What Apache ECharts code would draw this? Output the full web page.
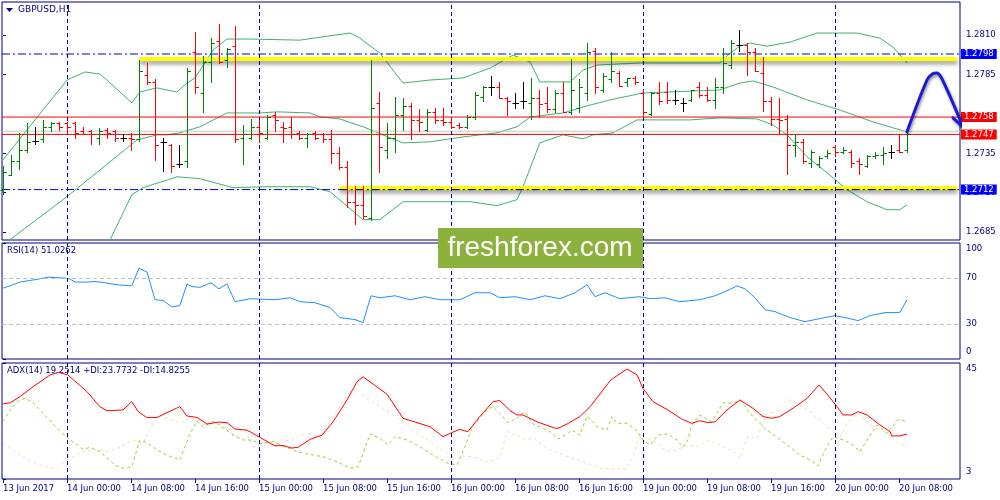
<!DOCTYPE html>
<html><head><meta charset="utf-8">
<script src="https://cdn.jsdelivr.net/npm/echarts@6/dist/echarts.min.js"></script>
<style>html,body{margin:0;padding:0;background:#fff}#c{width:1000px;height:500px}</style>
</head><body><div id="c"></div>
<script>
// ---------- data ----------
const tickIndex = [0,8,16,24,32,40,48,56,64,72,80,88,96,104,112];
const tickLabels = ['13 Jun 2017','14 Jun 00:00','14 Jun 08:00','14 Jun 16:00','15 Jun 00:00','15 Jun 08:00','15 Jun 16:00','16 Jun 00:00','16 Jun 08:00','16 Jun 16:00','19 Jun 00:00','19 Jun 08:00','19 Jun 16:00','20 Jun 00:00','20 Jun 08:00'];
const daySeparators = [8,32,56,80,104];
const priceTicks = [1.2685,1.2710,1.2735,1.2785,1.2810];
const rsiTicks = [0,30,70,100];
const adxTicks = [3,45];

// GBPUSD H1 bars: [open, high, low, close]
const ohlc = [
[1.2712,1.2727,1.2709,1.2723],[1.2721,1.2734,1.2721,1.2730],[1.2730,1.2748,1.2725,1.2737],[1.2737,1.2754,1.2736,1.2742],
[1.2743,1.2752,1.2741,1.2743],[1.2744,1.2756,1.2742,1.2752],[1.2752,1.2755,1.2749,1.2754],[1.2754,1.2755,1.2750,1.2752],
[1.2754,1.2755,1.2748,1.2752],[1.2754,1.2755,1.2745,1.2748],[1.2749,1.2752,1.2747,1.2747],[1.2749,1.2750,1.2741,1.2747],
[1.2745,1.2751,1.2741,1.2749],[1.2750,1.2751,1.2745,1.2748],[1.2749,1.2750,1.2743,1.2745],[1.2745,1.2747,1.2743,1.2745],
[1.2745,1.2748,1.2737,1.2744],[1.2744,1.2794,1.2743,1.2787],[1.2785,1.2792,1.2779,1.2780],[1.2780,1.2782,1.2731,1.2740],
[1.2742,1.2745,1.2724,1.2742],[1.2740,1.2741,1.2723,1.2727],[1.2728,1.2740,1.2726,1.2728],[1.2730,1.2789,1.2726,1.2787],
[1.2799,1.2812,1.2773,1.2777],[1.2773,1.2797,1.2761,1.2793],[1.2793,1.2808,1.2780,1.2805],[1.2806,1.2817,1.2792,1.2793],
[1.2794,1.2802,1.2790,1.2801],[1.2803,1.2816,1.2742,1.2744],[1.2745,1.2753,1.2728,1.2747],[1.2745,1.2757,1.2744,1.2752],
[1.2752,1.2756,1.2742,1.2748],[1.2745,1.2759,1.2744,1.2758],[1.2759,1.2761,1.2749,1.2756],[1.2752,1.2755,1.2742,1.2751],
[1.2752,1.2758,1.2745,1.2747],[1.2748,1.2749,1.2744,1.2745],[1.2745,1.2748,1.2739,1.2747],[1.2748,1.2749,1.2744,1.2745],
[1.2747,1.2748,1.2742,1.2744],[1.2744,1.2750,1.2729,1.2735],[1.2735,1.2739,1.2725,1.2726],[1.2726,1.2730,1.2701,1.2704],
[1.2704,1.2714,1.2690,1.2702],[1.2702,1.2714,1.2694,1.2695],[1.2694,1.2794,1.2693,1.2764],[1.2767,1.2774,1.2723,1.2739],
[1.2737,1.2754,1.2732,1.2745],[1.2745,1.2771,1.2736,1.2759],[1.2759,1.2770,1.2750,1.2765],[1.2765,1.2767,1.2744,1.2756],
[1.2756,1.2763,1.2749,1.2755],[1.2750,1.2763,1.2749,1.2761],[1.2761,1.2764,1.2754,1.2756],[1.2756,1.2764,1.2753,1.2755],
[1.2755,1.2758,1.2751,1.2752],[1.2753,1.2754,1.2751,1.2752],[1.2752,1.2759,1.2751,1.2758],[1.2758,1.2774,1.2757,1.2772],
[1.2771,1.2778,1.2768,1.2777],[1.2777,1.2784,1.2772,1.2777],[1.2777,1.2780,1.2770,1.2770],[1.2770,1.2771,1.2759,1.2768],
[1.2767,1.2773,1.2764,1.2767],[1.2768,1.2780,1.2764,1.2768],[1.2767,1.2783,1.2757,1.2770],[1.2770,1.2775,1.2758,1.2766],
[1.2767,1.2777,1.2761,1.2763],[1.2763,1.2775,1.2761,1.2773],[1.2773,1.2780,1.2761,1.2761],[1.2761,1.2795,1.2760,1.2775],
[1.2764,1.2782,1.2761,1.2777],[1.2773,1.2805,1.2769,1.2799],[1.2800,1.2802,1.2773,1.2777],[1.2775,1.2786,1.2774,1.2784],
[1.2782,1.2799,1.2780,1.2787],[1.2786,1.2787,1.2778,1.2778],[1.2780,1.2783,1.2778,1.2783],[1.2783,1.2784,1.2779,1.2780],
[1.2773,1.2775,1.2758,1.2761],[1.2760,1.2774,1.2759,1.2773],[1.2773,1.2780,1.2766,1.2768],[1.2774,1.2780,1.2767,1.2769],
[1.2769,1.2775,1.2766,1.2769],[1.2767,1.2770,1.2762,1.2767],[1.2769,1.2775,1.2768,1.2775],[1.2777,1.2780,1.2771,1.2772],
[1.2772,1.2777,1.2768,1.2769],[1.2769,1.2783,1.2764,1.2777],[1.2777,1.2802,1.2773,1.2792],[1.2791,1.2807,1.2789,1.2805],
[1.2804,1.2813,1.2800,1.2804],[1.2804,1.2805,1.2785,1.2799],[1.2799,1.2802,1.2787,1.2787],[1.2786,1.2796,1.2762,1.2768],
[1.2768,1.2771,1.2753,1.2757],[1.2757,1.2770,1.2747,1.2756],[1.2757,1.2759,1.2722,1.2740],[1.2740,1.2747,1.2733,1.2742],
[1.2742,1.2744,1.2729,1.2730],[1.2729,1.2737,1.2726,1.2736],[1.2728,1.2733,1.2726,1.2732],[1.2733,1.2737,1.2732,1.2735],
[1.2739,1.2740,1.2733,1.2736],[1.2736,1.2739,1.2735,1.2737],[1.2736,1.2737,1.2726,1.2729],[1.2730,1.2732,1.2722,1.2728],
[1.2727,1.2734,1.2726,1.2733],[1.2733,1.2736,1.2732,1.2734],[1.2734,1.2739,1.2728,1.2735],[1.2736,1.2740,1.2732,1.2736],
[1.2737,1.2747,1.2736,1.2736],[1.2737,1.2749,1.2736,1.2747]
];

// Bollinger bands: [bar index, price]
const bbUpper = [[0,1.27309],[4,1.27562],[8,1.27815],[10.25,1.27866],[12.1,1.27853],[13,1.27815],[16.1,1.2767],[17.1,1.27739],[19.25,1.27765],[21.75,1.27739],[23,1.27796],[24,1.27828],[26.25,1.28005],[28,1.28075],[30.9,1.28075],[37.1,1.28068],[41.5,1.281],[43.4,1.28113],[44.6,1.28081],[47.1,1.27986],[50,1.27796],[53.4,1.27815],[57.5,1.27828],[60.9,1.27891],[63.75,1.27973],[65.9,1.27929],[67.1,1.27803],[70.9,1.27803],[72.5,1.27878],[74.25,1.2791],[79.6,1.27923],[89.6,1.27923],[90.9,1.27986],[92.1,1.2803],[93.4,1.28049],[95.5,1.2803],[98.4,1.28056],[101.75,1.28113],[106.75,1.28113],[109.6,1.28081],[111.25,1.28024],[113,1.27923]];
const bbMiddle = [[0,1.2675],[0.9,1.26803],[8,1.27075],[16.75,1.27435],[19.25,1.27467],[20.5,1.27467],[22.1,1.2748],[24.6,1.27518],[28,1.27606],[32.1,1.27606],[34.25,1.27613],[38.4,1.27606],[39.6,1.27581],[42.1,1.27568],[45,1.27518],[50,1.27416],[53.4,1.27423],[57.5,1.27454],[61.75,1.2748],[64.25,1.27518],[65.9,1.27581],[70,1.27606],[73,1.27651],[75.9,1.27689],[80,1.27733],[89.6,1.27752],[92.1,1.27796],[93.75,1.27809],[96.25,1.27771],[100.5,1.27689],[104.6,1.27625],[108.75,1.27549],[113,1.27486]];
const bbLower = [[12.5,1.2672],[13.4,1.26803],[16.1,1.27087],[17.5,1.27132],[21.75,1.27201],[24.6,1.27189],[28.75,1.27132],[33,1.27138],[38.4,1.27138],[40.9,1.27106],[45,1.26929],[47.1,1.26929],[50,1.27043],[58.4,1.27043],[61.75,1.27018],[64.25,1.27056],[65,1.27138],[67.1,1.27416],[70,1.27467],[72.5,1.27442],[73.75,1.27467],[76.25,1.2748],[79.25,1.27562],[85.9,1.27562],[89.6,1.27575],[94.25,1.27568],[96.25,1.2753],[98,1.27467],[100.5,1.27328],[103,1.27227],[105.5,1.27119],[108,1.27043],[110.5,1.26992],[112.1,1.26992],[113,1.27024]];

// horizontal levels
const levelBlue = [1.2798, 1.2712];
const levelRed = [1.2758, 1.2747];
const askLine = 1.2749;
const bandUpper = [[17.1,1.27948],[119.3,1.27948]];
const bandLower = [[42.1,1.2713],[119.3,1.2713]];
const bandLowerDash = [[42.1,1.2712],[119.3,1.2712]];
// forecast arrow
const arrowPath = [[113,1.27486],[115.5,1.27815],[116.2,1.27855],[116.7,1.2786],[117.3,1.2783],[119.9,1.2753]];
const arrowHead = [[118.75,1.27575],[119.95,1.2752],[120.15,1.2766]];

// RSI(14)
const rsi = [[0,61.1],[0.9,63.1],[2.1,66.3],[3.4,67.7],[4.6,69.1],[5.6,70.6],[6.5,70.2],[7.75,69.7],[8.4,68.9],[9,66.3],[10.25,66.3],[11.5,66.8],[12.5,66.0],[13.75,64.6],[14.6,63.7],[16.1,63.1],[17,78.3],[18,74.9],[19,51.1],[20,50.5],[21.1,44.9],[22.1,46.0],[23,64.6],[23.6,62.5],[24.6,61.7],[26,65.7],[27,60.5],[28,64.8],[29,49.4],[30.9,52.0],[34,51.1],[35.9,52.8],[37.1,49.4],[39,48.5],[40.9,44.3],[42.1,35.7],[44,34.0],[45,31.4],[46,54.5],[47.1,52.8],[49,54.5],[50.9,51.1],[52.75,53.7],[54.6,51.1],[57.1,51.1],[59,57.1],[60.9,57.1],[62.1,52.8],[64,53.7],[65.9,51.1],[67.75,54.5],[69.6,52.0],[71.5,57.1],[73,64.0],[74,53.7],[75.25,57.1],[77.1,52.0],[79.6,53.7],[80.9,52.0],[82.75,52.8],[84.6,49.4],[87.1,51.1],[89,54.5],[90.5,58.8],[91.75,63.1],[92.75,60.5],[94,52.8],[95.25,42.5],[96.5,40.8],[98.4,35.7],[100.25,32.2],[102.1,34.8],[104,37.4],[105.25,35.7],[106.9,33.1],[108.4,37.4],[110.25,40.0],[112.1,40.0],[113,51.03]];
const rsiLevels = [30,70];

// ADX(14), +DI, -DI
const adx = [[0,30.2],[0.9,30.6],[2.1,32.8],[3.75,36.4],[5.9,40.7],[6.9,41.6],[8.1,40.7],[10.5,34.6],[12.1,29.2],[13,27.7],[15,28.0],[16.1,31.0],[16.9,27.4],[18,25.2],[19.25,25.3],[22.1,29.2],[23,25.8],[24.25,25.3],[25.5,22.9],[26.9,23.6],[28,23.4],[29,21.1],[30.5,20.7],[32.1,18.1],[34,15.0],[35,15.1],[36.1,14.2],[36.9,14.5],[38.4,17.4],[39.9,18.9],[41.25,23.7],[43,31.6],[44.25,38.2],[45,40.0],[46.25,37.4],[48,33.7],[50,25.0],[51.75,23.4],[53.4,21.9],[55,18.3],[56.1,19.8],[57.1,21.0],[58.1,20.1],[59.6,25.6],[61.25,31.0],[62.1,31.4],[63.4,27.7],[64.25,26.2],[65,26.2],[66.75,23.7],[69,21.4],[69.4,21.4],[70.5,22.9],[72.1,25.6],[73.4,29.2],[75.9,38.6],[76.9,40.7],[78,42.8],[79.25,40.7],[80,35.8],[81.25,31.0],[83,28.2],[84.9,24.6],[86.1,23.2],[87.1,24.1],[88.1,23.4],[89,23.7],[90.5,28.0],[92.1,31.6],[93.75,28.6],[95,25.6],[96.1,25.0],[97.1,25.6],[98.75,28.6],[100.5,32.2],[102,37.0],[103.1,33.4],[104.25,29.2],[105,26.2],[106.1,26.2],[106.9,27.4],[108,26.2],[109.6,22.6],[110.9,20.1],[111.1,18.6],[112.1,18.6],[113,19.25]];
const plusDI = [[0,23.75],[0.9,27.98],[1.9,31.24],[2.75,32.22],[3.6,30.99],[5,26.79],[6.9,21.0],[8.4,17.12],[10,13.75],[10.9,14.48],[12.1,12.89],[14,8.07],[15,6.88],[16.1,7.46],[17.1,17.12],[18,16.14],[19.25,13.5],[20.5,11.69],[22.1,9.88],[23.4,19.55],[24.25,24.0],[25,21.94],[26.25,23.75],[27.1,22.55],[28.75,18.93],[30,17.12],[31.1,17.12],[32.1,15.93],[33.75,16.51],[35,14.95],[36.75,12.89],[38.75,11.69],[40,11.08],[41.75,9.27],[43.4,6.88],[44.4,7.46],[45.9,19.29],[47.1,17.74],[48.1,15.31],[49,18.32],[50.5,17.12],[52.1,14.7],[53.75,11.69],[55.6,8.69],[56.75,8.07],[57.75,14.7],[58.75,22.55],[60.5,27.98],[61.25,29.18],[62.1,26.8],[63.1,23.39],[64.25,24.98],[65.25,27.37],[66.25,22.91],[67.5,21.36],[68.4,20.13],[69.4,17.48],[70.5,19.29],[71.1,20.74],[72.1,18.93],[73,25.81],[74.25,21.94],[75.5,20.74],[76.1,25.56],[76.75,23.17],[78,23.17],[79.25,20.49],[80,17.12],[80.9,15.31],[81.9,18.93],[83.1,19.29],[84.25,17.12],[85,14.48],[85.6,17.12],[86.1,22.55],[87.1,26.17],[88.6,23.75],[90,30.63],[91.1,30.41],[92.1,31.6],[93.75,25.56],[95.5,20.74],[97.5,16.51],[99.6,11.69],[100.9,9.88],[101.9,7.71],[102.75,13.5],[103.75,18.32],[105,17.12],[106.25,15.31],[107.1,12.89],[108.4,18.93],[109.25,22.55],[110.5,19.55],[111.9,24.62],[113,23.77]];
const minusDI = [[0,15.93],[2.1,11.69],[4.6,8.07],[6.5,6.88],[8,9.88],[9.6,12.31],[11.25,13.75],[13,12.89],[14.6,14.48],[16.1,17.12],[17.5,15.93],[18.75,23.17],[19.6,25.81],[20.5,24.98],[22.1,23.17],[23.4,24.98],[24.6,23.17],[26.25,21.94],[28,20.74],[29.25,18.32],[30,22.3],[31.25,14.7],[32.5,15.93],[33.75,15.31],[34.9,17.48],[35.9,16.65],[37.1,19.04],[38.4,19.55],[39.6,17.74],[41.25,25.56],[43,32.8],[44,35.84],[45.5,32.22],[47.5,28.6],[49.6,24.36],[51.75,19.55],[53.75,15.93],[55.5,12.31],[56.25,12.89],[57.5,11.33],[58.75,11.08],[60.5,9.05],[62.1,10.6],[63,20.13],[64.25,18.93],[65.25,17.12],[66.25,17.74],[68,14.12],[70.5,11.08],[72.5,9.27],[74.6,6.88],[76.75,6.51],[78,6.88],[78.75,11.08],[79.6,18.93],[80.5,17.74],[81.75,16.14],[83,12.89],[84.25,13.5],[85.5,15.31],[86.75,14.7],[88,17.12],[89.6,15.31],[91.25,12.89],[92.1,10.5],[93.1,18.32],[94.25,17.74],[95.5,26.79],[96.75,27.37],[98,31.86],[99.25,30.41],[100.5,28.24],[102.1,24.36],[103.75,20.13],[104.6,17.74],[105.6,23.75],[106.9,26.79],[108.4,22.55],[109.6,20.74],[110.9,18.93],[112.1,15.42],[113,14.83]];

// ---------- chart ----------
const NAVY = '#000080';
const FONT = 'DejaVu Sans';
const FS = 8.5;
const xMin = -0.125, xMax = 119.625;

function xAxisDef(gi, showLabels) {
  return {
    type: 'value', gridIndex: gi, min: xMin, max: xMax,
    axisLine: {show: false}, splitLine: {show: false},
    axisTick: showLabels ? {show: true, customValues: tickIndex, length: 4, lineStyle: {color: NAVY}} : {show: false},
    axisLabel: showLabels ? {show: true, customValues: tickIndex, formatter: v => tickLabels[tickIndex.indexOf(v)] || '',
      align: 'left', margin: 5, color: NAVY, fontFamily: FONT, fontSize: FS} : {show: false}
  };
}
const sepMarks = daySeparators.map(v => ({xAxis: v}));
const sepLine = {silent: true, symbol: ['none','none'], label: {show: false}, precision: 5,
  lineStyle: {color: NAVY, type: [4,3], width: 1}, data: sepMarks, animation: false};

function levelSeries(v, color, dash, labelBg, z) {
  return {type: 'line', xAxisIndex: 0, yAxisIndex: 0, data: [[xMin, v], [xMax, v]], symbol: 'none', silent: true, z: z,
    lineStyle: {color: color, width: 1, type: dash},
    endLabel: labelBg ? {show: true, formatter: v.toFixed(4), backgroundColor: labelBg, color: '#ffffff',
      padding: [1,3,0,3], distance: 1, fontFamily: FONT, fontSize: FS} : {show: false}};
}

const option = {
  animation: false,
  backgroundColor: '#ffffff',
  grid: [
    {left: 2, width: 958, top: 2, height: 238, show: true, borderColor: NAVY, borderWidth: 1, backgroundColor: 'transparent'},
    {left: 2, width: 958, top: 243, height: 116, show: true, borderColor: NAVY, borderWidth: 1, backgroundColor: 'transparent'},
    {left: 2, width: 958, top: 363, height: 116, show: true, borderColor: NAVY, borderWidth: 1, backgroundColor: 'transparent'}
  ],
  xAxis: [xAxisDef(0,false), xAxisDef(1,false), xAxisDef(2,true)],
  yAxis: [
    {type: 'value', gridIndex: 0, position: 'right', min: 1.2680, max: 1.2831, scale: true,
     axisLine: {show: false}, splitLine: {show: false},
     axisTick: {show: true, customValues: priceTicks, length: 3, lineStyle: {color: NAVY}},
     axisLabel: {customValues: priceTicks, formatter: v => v.toFixed(4), color: NAVY, fontFamily: FONT, fontSize: FS, margin: 6}},
    {type: 'value', gridIndex: 1, position: 'right', min: 0, max: 100,
     axisLine: {show: false}, splitLine: {show: false},
     axisTick: {show: true, customValues: rsiTicks, length: 3, lineStyle: {color: NAVY}},
     axisLabel: {customValues: rsiTicks, color: NAVY, fontFamily: FONT, fontSize: FS, margin: 6,
       formatter: v => v === 100 ? '{t|100}' : (v === 0 ? '{b|0}' : '{n|' + v + '}'),
       rich: {t: {padding: [12,0,0,0], color: NAVY, fontFamily: FONT, fontSize: FS},
              b: {padding: [0,0,14,0], color: NAVY, fontFamily: FONT, fontSize: FS},
              n: {color: NAVY, fontFamily: FONT, fontSize: FS}}}},
    {type: 'value', gridIndex: 2, position: 'right', min: 3, max: 45,
     axisLine: {show: false}, splitLine: {show: false},
     axisTick: {show: true, customValues: adxTicks, length: 3, lineStyle: {color: NAVY}},
     axisLabel: {customValues: adxTicks, color: NAVY, fontFamily: FONT, fontSize: FS, margin: 6,
       formatter: v => v === 45 ? '{t|45}' : '{b|' + v + '}',
       rich: {t: {padding: [12,0,0,0], color: NAVY, fontFamily: FONT, fontSize: FS},
              b: {padding: [0,0,14,0], color: NAVY, fontFamily: FONT, fontSize: FS}}}}
  ],
  series: [
    // Bollinger bands
    {type: 'line', xAxisIndex: 0, yAxisIndex: 0, data: bbUpper, symbol: 'none', silent: true,
     lineStyle: {color: '#3cb371', width: 1}, z: 2, markLine: sepLine},
    {type: 'line', xAxisIndex: 0, yAxisIndex: 0, data: bbMiddle, symbol: 'none', silent: true,
     lineStyle: {color: '#3cb371', width: 1}, z: 2},
    {type: 'line', xAxisIndex: 0, yAxisIndex: 0, data: bbLower, symbol: 'none', silent: true,
     lineStyle: {color: '#3cb371', width: 1}, z: 2},
    // price levels
    levelSeries(askLine, '#c8c8c8', 'solid', null, 2),
    levelSeries(levelRed[0], '#ff0000', 'solid', '#ff0000', 3),
    levelSeries(levelRed[1], '#ff0000', 'solid', '#ff0000', 3),
    levelSeries(levelBlue[0], '#0000d8', [8,3,2,3], '#0000ff', 3),
    levelSeries(levelBlue[1], '#0000d8', [8,3,2,3], '#0000ff', 3),
    // yellow support/resistance bands
    {type: 'line', xAxisIndex: 0, yAxisIndex: 0, data: bandUpper, symbol: 'none', silent: true, z: 3,
     lineStyle: {color: '#ffff00', width: 4, shadowColor: 'rgba(0,0,0,0.45)', shadowBlur: 4, shadowOffsetY: 3}},
    {type: 'line', xAxisIndex: 0, yAxisIndex: 0, data: bandLower, symbol: 'none', silent: true, z: 3,
     lineStyle: {color: '#ffff00', width: 4, shadowColor: 'rgba(0,0,0,0.45)', shadowBlur: 4, shadowOffsetY: 3}},
    {type: 'line', xAxisIndex: 0, yAxisIndex: 0, data: bandLowerDash, symbol: 'none', silent: true, z: 4,
     lineStyle: {color: '#000000', width: 1, type: [8,3,2,3]}},
    // OHLC bars
    {type: 'custom', xAxisIndex: 0, yAxisIndex: 0, z: 5, silent: true,
     data: ohlc.map((d, i) => [i, d[0], d[1], d[2], d[3]]),
     encode: {x: 0, y: [1,2,3,4]},
     renderItem: function (params, api) {
       const i = api.value(0), o = api.value(1), h = api.value(2), l = api.value(3), c = api.value(4);
       const po = api.coord([i, o]), ph = api.coord([i, h]), pl = api.coord([i, l]), pc = api.coord([i, c]);
       const x = Math.round(po[0]) + 0.5;
       const yo = Math.round(po[1]) + 0.5, yc = Math.round(pc[1]) + 0.5;
       const yh = Math.round(ph[1]), yl = Math.round(pl[1]) + 1;
       const col = c > o ? '#008000' : (c < o ? '#ff0000' : '#000000');
       const st = {stroke: col, lineWidth: 1};
       return {type: 'group', children: [
         {type: 'line', shape: {x1: x, y1: yh, x2: x, y2: yl}, style: st},
         {type: 'line', shape: {x1: x - 3, y1: yo, x2: x, y2: yo}, style: st},
         {type: 'line', shape: {x1: x, y1: yc, x2: x + 3.5, y2: yc}, style: st}
       ]};
     }},
    // forecast arrow
    {type: 'line', xAxisIndex: 0, yAxisIndex: 0, data: arrowPath, symbol: 'none', silent: true, clip: false, z: 8,
     smooth: 0.35,
     lineStyle: {color: '#1a1ad8', width: 3, cap: 'round', join: 'round', shadowColor: 'rgba(0,0,0,0.45)', shadowBlur: 3, shadowOffsetX: 1, shadowOffsetY: 2}},
    {type: 'line', xAxisIndex: 0, yAxisIndex: 0, data: arrowHead, symbol: 'none', silent: true, clip: false, z: 8,
     lineStyle: {color: '#1a1ad8', width: 3, cap: 'round', join: 'round', shadowColor: 'rgba(0,0,0,0.45)', shadowBlur: 3, shadowOffsetX: 1, shadowOffsetY: 2}},
    // RSI
    {type: 'line', xAxisIndex: 1, yAxisIndex: 1, data: rsi, symbol: 'none', silent: true,
     lineStyle: {color: '#1e90ff', width: 1},
     markLine: {silent: true, symbol: ['none','none'], animation: false, label: {show: false}, precision: 5,
       data: rsiLevels.map(v => ({yAxis: v, lineStyle: {color: '#c0c0c0', type: [4,3], width: 1}}))
         .concat(sepMarks.map(m => ({xAxis: m.xAxis, lineStyle: {color: NAVY, type: [4,3], width: 1}})))}},
    // ADX
    {type: 'line', xAxisIndex: 2, yAxisIndex: 2, data: minusDI, symbol: 'none', silent: true, z: 2,
     lineStyle: {color: '#f5deb3', width: 1, type: [3,3]}, markLine: sepLine},
    {type: 'line', xAxisIndex: 2, yAxisIndex: 2, data: plusDI, symbol: 'none', silent: true, z: 3,
     lineStyle: {color: '#9acd32', width: 1, type: [3,3]}},
    {type: 'line', xAxisIndex: 2, yAxisIndex: 2, data: adx, symbol: 'none', silent: true, z: 4,
     lineStyle: {color: '#ff0000', width: 1}}
  ],
  graphic: [
    {type: 'polygon', shape: {points: [[6,8],[13,8],[9.5,12]]}, style: {fill: NAVY}, z: 10},
    {type: 'text', left: 18, top: 5, style: {text: 'GBPUSD,H1', fill: NAVY, font: '9px "DejaVu Sans"'}, z: 10},
    {type: 'text', left: 7, top: 246, style: {text: 'RSI(14) 51.0262', fill: NAVY, font: FS + 'px "DejaVu Sans"'}, z: 1},
    {type: 'text', left: 7, top: 366, style: {text: 'ADX(14) 19.2514 +DI:23.7732 -DI:14.8255', fill: NAVY, font: FS + 'px "DejaVu Sans"'}, z: 1},
    {type: 'rect', shape: {x: 438, y: 228, width: 205, height: 40}, style: {fill: '#8cb13c'}, z: 20},
    {type: 'text', x: 540, y: 248, style: {text: 'freshforex.com', fill: '#ffffff', font: '28px "Liberation Sans"', align: 'center', verticalAlign: 'middle'}, z: 21}
  ]
};
const chart = echarts.init(document.getElementById('c'), null, {width: 1000, height: 500});
chart.setOption(option);
</script>
</body></html>
